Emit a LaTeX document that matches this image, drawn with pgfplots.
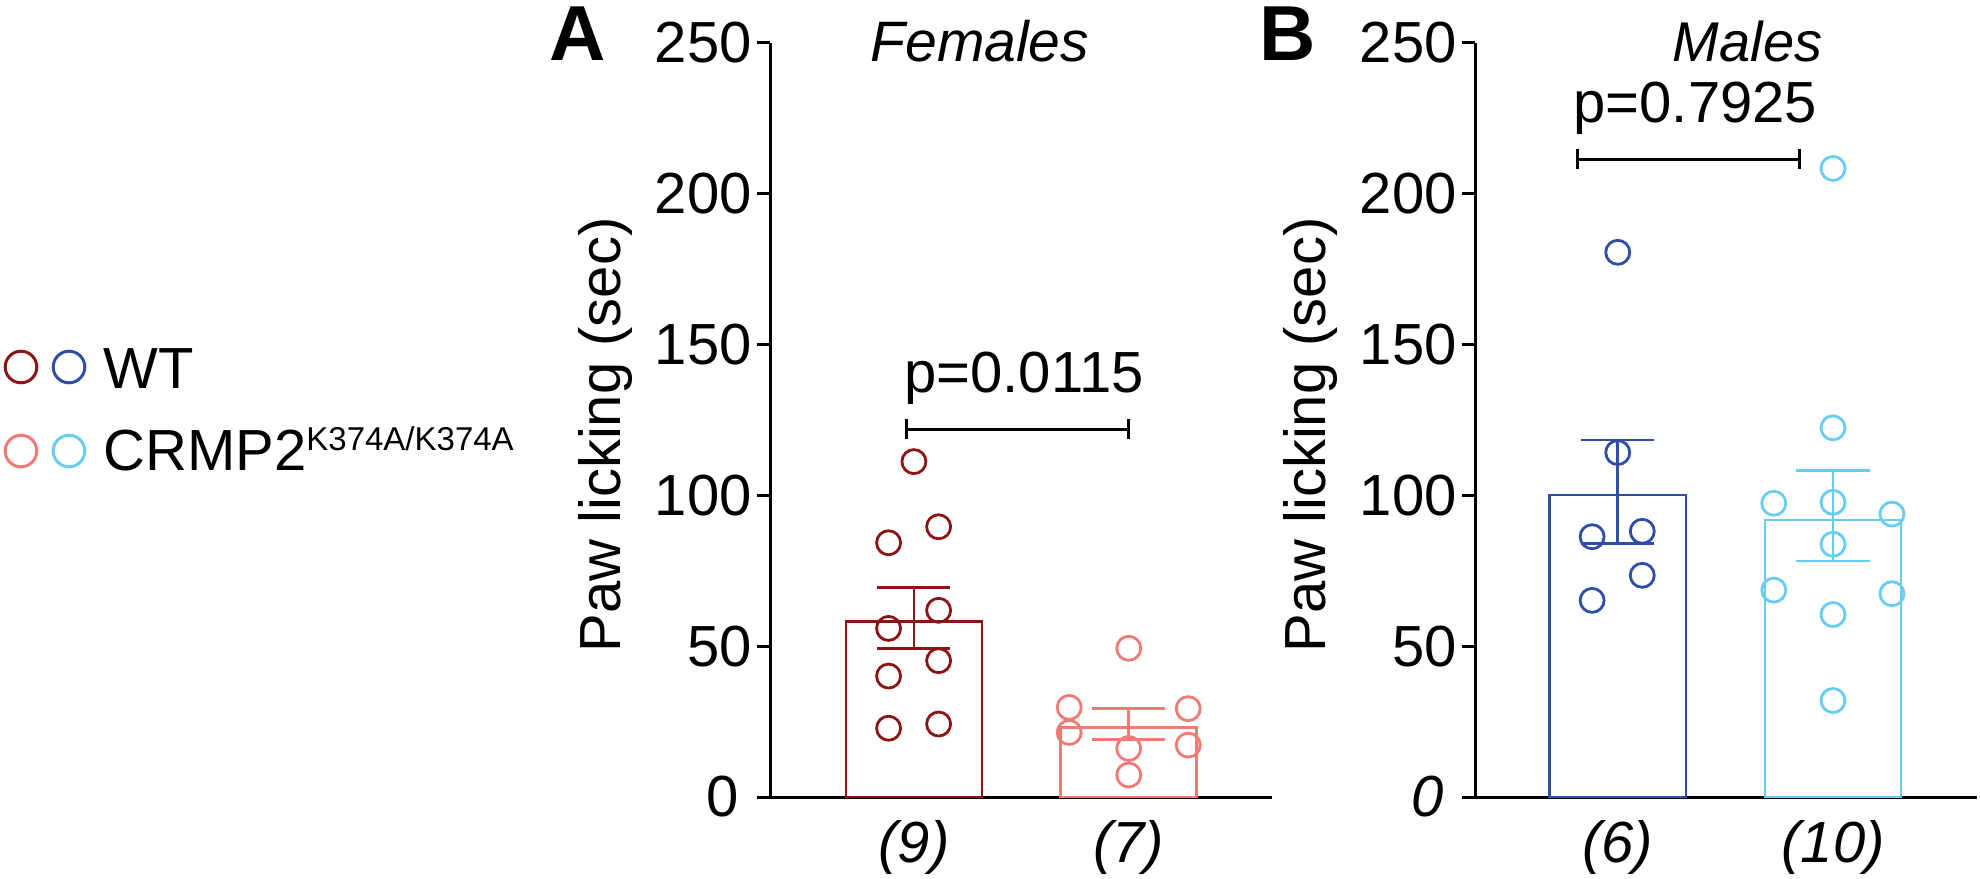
\documentclass[border=0pt]{standalone}
\usepackage{pgfplots}
\pgfplotsset{compat=1.18}
\usepackage{fontspec}
\setmainfont{Liberation Sans}

\definecolor{fwt}{RGB}{140,20,20}
\definecolor{fko}{RGB}{242,122,117}
\definecolor{mwt}{RGB}{46,78,168}
\definecolor{mko}{RGB}{104,205,245}

\newcommand{\bigfont}{\fontsize{29pt}{29pt}\selectfont}

\pgfplotsset{
  panel/.style={
    scale only axis, width=251pt, height=377pt,
    xmin=-0.67, xmax=1.667, ymin=0, ymax=250,
    axis x line*=bottom, axis y line*=left,
    axis line style={line width=1.5pt, black},
    x axis line style={shorten <=-6pt},
    ytick={0,50,100,150,200,250},
    xtick={0,1},
    tick align=outside,
    major tick length=6.5pt,
    y tick style={line width=1.5pt, black},
    x tick style={draw=none},
    tick label style={font=\bigfont},
    yticklabel style={inner sep=0pt, xshift=-2.5pt},
    xticklabel style={inner sep=0pt, yshift=-5pt},
    clip=false,
  },
  bars/.style={ybar, bar width=0.633, bar shift=0pt, fill=white, draw=#1,
    line width=1.3pt},
  errline/.style={draw=#1, line width=1.3pt, mark=none},
  dots/.style={only marks, mark=o, mark size=6pt,
    mark options={line width=1.4pt, draw=#1, fill=none}, draw=#1},
}

\begin{document}
\begin{tikzpicture}
\useasboundingbox (0,0) rectangle (990pt,439pt);

% overlay in pixel coordinates: legend, panel letters, y labels
\begin{axis}[at={(0pt,0pt)}, anchor=south west, scale only axis,
  width=990pt, height=439pt, xmin=0, xmax=1980, ymin=0, ymax=878,
  y dir=reverse, hide axis, clip=false]
\addplot[only marks, mark=o, mark size=7.9pt, mark options={line width=1.5pt, draw=fwt}] coordinates {(21,367)};
\addplot[only marks, mark=o, mark size=7.9pt, mark options={line width=1.5pt, draw=mwt}] coordinates {(69,367)};
\addplot[only marks, mark=o, mark size=7.9pt, mark options={line width=1.5pt, draw=fko}] coordinates {(21,451)};
\addplot[only marks, mark=o, mark size=7.9pt, mark options={line width=1.5pt, draw=mko}] coordinates {(69,451)};
\node[anchor=base west, inner sep=0pt, font=\bigfont] at (axis cs:103,388) {WT};
\node[anchor=base west, inner sep=0pt, font=\bigfont] at (axis cs:103,470) {CRMP2\raisebox{10pt}{\fontsize{16.5pt}{16.5pt}\selectfont K374A/K374A}};
\node[anchor=base west, inner sep=0pt, font=\bfseries\fontsize{39pt}{39pt}\selectfont] at (axis cs:549,61) {A};
\node[anchor=base west, inner sep=0pt, font=\bfseries\fontsize{39pt}{39pt}\selectfont] at (axis cs:1259,61) {B};
\node[rotate=90, anchor=base, inner sep=0pt, font=\bigfont] at (axis cs:620,435) {Paw licking (sec)};
\node[rotate=90, anchor=base, inner sep=0pt, font=\bigfont] at (axis cs:1325,435) {Paw licking (sec)};
\end{axis}

% Panel A: Females
\begin{axis}[panel, at={(385pt,40.5pt)}, anchor=south west,
  yticklabels={0\kern6.5pt,50,100,150,200,250},
  xticklabels={\textit{(9)},\textit{(7)}}]
\addplot[bars=fwt] coordinates {(0,58.2)};
\addplot[bars=fko] coordinates {(1,23.1)};
% mean +/- SEM
\addplot[errline=fwt] coordinates {(0,49.3) (0,69.5)};
\addplot[errline=fwt] coordinates {(-0.17,69.5) (0.17,69.5)};
\addplot[errline=fwt] coordinates {(-0.17,49.3) (0.17,49.3)};
\addplot[errline=fko] coordinates {(1,19.1) (1,29.4)};
\addplot[errline=fko] coordinates {(0.83,29.4) (1.17,29.4)};
\addplot[errline=fko] coordinates {(0.83,19.1) (1.17,19.1)};
\addplot[dots=fwt] coordinates {(0,111.2) (0.115,89.6) (-0.118,84.3) (0.115,61.9) (-0.118,55.9) (0.115,45.2) (-0.118,40.1) (0.115,24.2) (-0.118,22.8)};
\addplot[dots=fko] coordinates {(1,49.3) (0.723,29.7) (1.277,29.3) (0.723,21.4) (1.277,17.2) (1,16.1) (1,7.3)};
\draw[line width=1.5pt] (axis cs:-0.034,122) -- (axis cs:0.998,122);
\draw[line width=1.5pt] ([yshift=-5pt]axis cs:-0.034,122) -- ([yshift=5pt]axis cs:-0.034,122);
\draw[line width=1.5pt] ([yshift=-5pt]axis cs:0.998,122) -- ([yshift=5pt]axis cs:0.998,122);
\node[anchor=base west, inner sep=0pt, font=\bigfont] at (axis cs:-0.046,134) {p=0.0115};
\node[anchor=base west, inner sep=0pt, font=\itshape\fontsize{28.5pt}{28.5pt}\selectfont] at (axis cs:-0.204,244) {Females};
\end{axis}

% Panel B: Males
\begin{axis}[panel, at={(737.5pt,40.5pt)}, anchor=south west,
  xmin=-0.663, xmax=1.669,
  yticklabels={\textit{0}\kern6.5pt,50,100,150,200,250},
  xticklabels={\textit{(6)},\textit{(10)}}]
\addplot[bars=mwt] coordinates {(0,100.1)};
\addplot[bars=mko] coordinates {(1,91.9)};
% mean +/- SEM
\addplot[errline=mwt] coordinates {(0,84.0) (0,118.4)};
\addplot[errline=mwt] coordinates {(-0.17,118.4) (0.17,118.4)};
\addplot[errline=mwt] coordinates {(-0.17,84.0) (0.17,84.0)};
\addplot[errline=mko] coordinates {(1,78.2) (1,108.2)};
\addplot[errline=mko] coordinates {(0.83,108.2) (1.17,108.2)};
\addplot[errline=mko] coordinates {(0.83,78.2) (1.17,78.2)};
\addplot[dots=mwt] coordinates {(0,180.6) (0,114.2) (-0.119,86.3) (0.114,88.1) (0.114,73.5) (-0.119,65.2)};
\addplot[dots=mko] coordinates {(1,208.4) (1,122.4) (0.725,97.4) (1,97.7) (1.274,93.8) (1,83.8) (0.725,68.6) (1.274,67.4) (1,60.5) (1,32.0)};
\draw[line width=1.5pt] (axis cs:-0.186,211.4) -- (axis cs:0.846,211.4);
\draw[line width=1.5pt] ([yshift=-5pt]axis cs:-0.186,211.4) -- ([yshift=5pt]axis cs:-0.186,211.4);
\draw[line width=1.5pt] ([yshift=-5pt]axis cs:0.846,211.4) -- ([yshift=5pt]axis cs:0.846,211.4);
\node[anchor=base west, inner sep=0pt, font=\bigfont] at (axis cs:-0.207,223.6) {p=0.7925};
\node[anchor=base west, inner sep=0pt, font=\itshape\fontsize{28pt}{28pt}\selectfont] at (axis cs:0.254,244) {Males};
\end{axis}
\end{tikzpicture}
\end{document}
